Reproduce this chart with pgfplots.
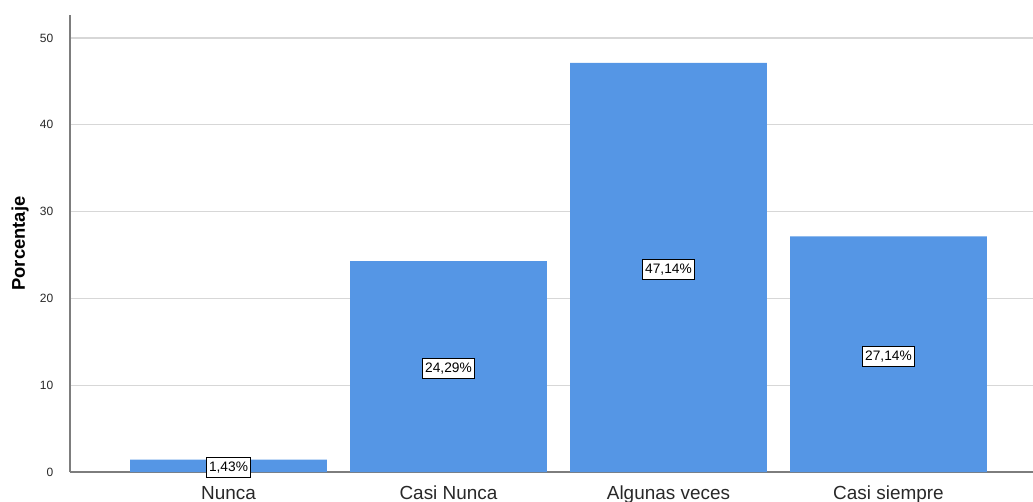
\documentclass[border=0pt]{standalone}
\usepackage{fontspec}
\setmainfont{Liberation Sans}
\usepackage{pgfplots}
\usepackage{pgfplotstable}
\pgfplotsset{compat=1.18}

\definecolor{barblue}{RGB}{85,150,229}
\definecolor{gridgray}{RGB}{215,215,215}
\definecolor{axisgray}{RGB}{125,125,125}
\definecolor{txt}{RGB}{40,40,40}

\pgfplotstableread{
x y lab
0 1.43  {1,43\%}
1 24.29 {24,29\%}
2 47.14 {47,14\%}
3 27.14 {27,14\%}
}\datos

\begin{document}
\begin{tikzpicture}
\begin{axis}[
  at={(0,0)}, anchor=south west,
  scale only axis,
  width=722.25pt, height=342.75pt,
  xmin=-0.7205, xmax=3.657,
  ymin=0, ymax=52.65,
  axis y line*=left, axis x line*=bottom,
  axis line style={axisgray, line width=1.1pt},
  every outer x axis line/.append style={-}, every outer y axis line/.append style={-},
  ytick={0,10,20,30,40,50},
  ymajorgrids,
  grid style={gridgray, line width=1pt},
  major tick length=0pt,
  xtick={0,1,2,3},
  xticklabels={Nunca, Casi Nunca, Algunas veces, Casi siempre},
  /pgf/number format/assume math mode=true,
  xticklabel style={font=\fontsize{14.2}{16}\selectfont, text=txt, anchor=north, yshift=-7pt},
  yticklabel style={font=\fontsize{9}{10}\selectfont, text=txt, anchor=east, xshift=-9pt},
  ylabel={\textbf{Porcentaje}},
  every axis y label/.style={at={(axis description cs:-0.0519,0.5)}, rotate=90, anchor=center, font=\fontsize{13.8}{15}\selectfont, text=black},
  ybar, bar width=0.895,
  bar shift=0pt,
]
\addplot[fill=barblue, draw=none,
  point meta=explicit symbolic,
  nodes near coords,
  visualization depends on={rawy \as \rawy},
  every node near coord/.append style={
    anchor=center, shift={(axis direction cs:0,-\rawy/2)}, yshift=-1.5pt,
    fill=white, draw=black, line width=0.7pt, inner xsep=1.8pt, inner ysep=3.2pt,
    font=\fontsize{10.3}{11}\selectfont, text=black}
] table[x=x, y=y, meta=lab] {\datos};
\end{axis}
\pgfresetboundingbox
\path[use as bounding box] (-52.5pt,-21.75pt) rectangle (722.25pt,354pt);
\end{tikzpicture}
\end{document}
